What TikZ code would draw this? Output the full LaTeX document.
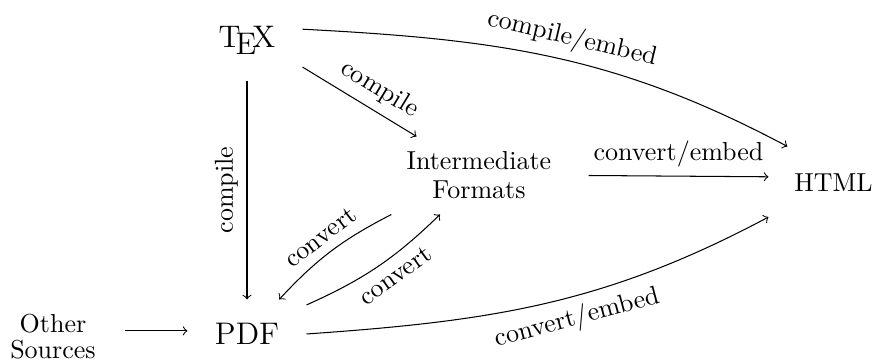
\documentclass[tikz,border=0pt]{standalone}
\begin{document}
\begin{tikzpicture}[x=0.3846pt,y=-0.3846pt,
  box/.style={inner sep=0pt, align=center},
  arr/.style={->, line width=0.4pt}]
\useasboundingbox (0,0) rectangle (875,362);
\node[box, minimum width=42.31pt, minimum height=30.77pt, font=\large] (tex) at (247,40) {\TeX};
\node[box, minimum width=83.85pt, minimum height=29.62pt] (int) at (479,175.5) {Intermediate\\[-0.8pt]Formats};
\node[box, minimum width=49.62pt, minimum height=27.31pt] (html) at (833.5,182.5) {HTML};
\node[box, minimum width=45.38pt, minimum height=26.15pt, font=\large] (pdf) at (247,334) {PDF};
\node[box, minimum width=54.62pt, minimum height=30.77pt] (other) at (53,337) {Other\\[-2pt]Sources};
\draw[arr] (tex.11.31) to[out=-3,in=152] node[above,sloped,pos=0.53]{compile/embed} (html.142.64);
\draw[arr] (tex.-26.14) -- node[above,sloped,pos=0.58]{compile} (int.148.16);
\draw[arr] (tex.south) -- node[rotate=90,anchor=south]{compile} (pdf.north);
\draw[arr] (int.-0.79) -- node[above]{convert/embed} (html.175.13);
\draw[arr] (int.204.84) to[bend right=10] node[above,sloped]{convert} (pdf.47.64);
\draw[arr] (pdf.26.18) to[bend right=10] node[below,sloped,pos=0.56]{convert} (int.225.4);
\draw[arr] (pdf.east) to[out=4,in=208] node[below,sloped,pos=0.56]{convert/embed} (html.208.83);
\draw[arr] (pdf.177.1 -| other.east) -- (pdf.177.1);
\end{tikzpicture}
\end{document}
